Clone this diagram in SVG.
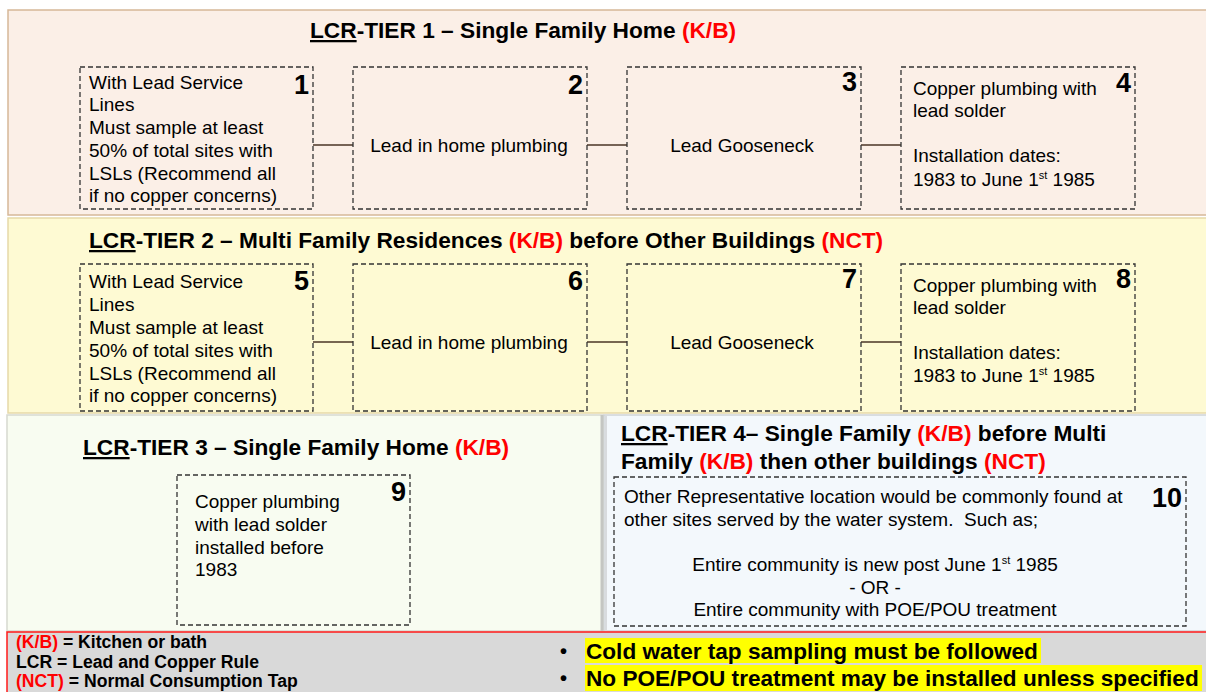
<svg xmlns="http://www.w3.org/2000/svg" width="1206" height="692" viewBox="0 0 1206 692">
<style>
text{font-family:"Liberation Sans",Arial,sans-serif;fill:#000}
.t{font-size:22.7px;font-weight:bold}
.b{font-size:19px}
.n{font-size:27px;font-weight:bold;text-anchor:end}
.c{text-anchor:middle}
.r{fill:#ff0000}
.box{fill:none;stroke:#333;stroke-width:1.3;stroke-dasharray:5,3}
.lg{font-size:17.6px;font-weight:bold}
.bl{font-size:22.6px;font-weight:bold}
.sup{font-size:11px}
</style>
<rect x="0" y="0" width="1206" height="692" fill="#ffffff"/>
<g id="panels">
<rect x="8" y="10" width="1205" height="205" fill="#fbefe7" stroke="#d6b898" stroke-width="1.5"/>
<rect x="8" y="218" width="1205" height="195" fill="#fefad3" stroke="#e6d9a8" stroke-width="1.5"/>
<rect x="7" y="415" width="596" height="216" fill="#f8fcf1" stroke="#d6d9cf" stroke-width="1.5"/>
<rect x="604" y="415" width="605" height="216" fill="#f3f8fc" stroke="#cfd3d6" stroke-width="1.5"/>
<line x1="602" y1="415" x2="602" y2="631" stroke="#c4c6c2" stroke-width="3"/>
<line x1="606" y1="415" x2="606" y2="631" stroke="#d8dbde" stroke-width="2"/>
<rect x="7" y="632" width="1205" height="65" fill="#d9d9d9" stroke="#ff1a1a" stroke-width="1.5"/>
</g>
<g id="titles">
<text class="t" x="310" y="38"><tspan text-decoration="underline">LCR</tspan>-TIER 1 – Single Family Home <tspan class="r">(K/B)</tspan></text>
<text class="t" x="89" y="248"><tspan text-decoration="underline">LCR</tspan>-TIER 2 – Multi Family Residences <tspan class="r">(K/B)</tspan> before Other Buildings <tspan class="r">(NCT)</tspan></text>
<text class="t" x="83" y="455"><tspan text-decoration="underline">LCR</tspan>-TIER 3 – Single Family Home <tspan class="r">(K/B)</tspan></text>
<text class="t" x="621" y="441"><tspan text-decoration="underline">LCR</tspan>-TIER 4– Single Family <tspan class="r">(K/B)</tspan> before Multi</text>
<text class="t" x="621" y="469">Family <tspan class="r">(K/B)</tspan> then other buildings <tspan class="r">(NCT)</tspan></text>
</g>
<g id="connectors" stroke="#4a3526" stroke-width="1.3">
<line x1="313" y1="145" x2="353" y2="145"/>
<line x1="587" y1="145" x2="627" y2="145"/>
<line x1="861" y1="145" x2="901" y2="145"/>
<line x1="313" y1="342" x2="353" y2="342"/>
<line x1="587" y1="342" x2="627" y2="342"/>
<line x1="861" y1="342" x2="901" y2="342"/>
</g>
<g id="node1">
<rect class="box" x="80" y="67" width="233" height="142"/>
<text class="n" x="309" y="94">1</text>
<text class="b" x="89" y="89">With Lead Service</text>
<text class="b" x="89" y="111">Lines</text>
<text class="b" x="89" y="134">Must sample at least</text>
<text class="b" x="89" y="157">50% of total sites with</text>
<text class="b" x="89" y="180">LSLs (Recommend all</text>
<text class="b" x="89" y="202">if no copper concerns)</text>
</g>
<g id="node2">
<rect class="box" x="353" y="67" width="234" height="142"/>
<text class="n" x="583" y="94">2</text>
<text class="b c" x="469" y="152">Lead in home plumbing</text>
</g>
<g id="node3">
<rect class="box" x="627" y="67" width="234" height="142"/>
<text class="n" x="857" y="91">3</text>
<text class="b c" x="742" y="152">Lead Gooseneck</text>
</g>
<g id="node4">
<rect class="box" x="901" y="67" width="234" height="142"/>
<text class="n" x="1131" y="92">4</text>
<text class="b" x="913" y="95">Copper plumbing with</text>
<text class="b" x="913" y="117">lead solder</text>
<text class="b" x="913" y="162">Installation dates:</text>
<text class="b" x="913" y="186">1983 to June 1<tspan class="sup" dy="-7">st</tspan><tspan dy="7"> 1985</tspan></text>
</g>
<g id="node5">
<rect class="box" x="80" y="264" width="233" height="147"/>
<text class="n" x="309" y="290">5</text>
<text class="b" x="89" y="288">With Lead Service</text>
<text class="b" x="89" y="311">Lines</text>
<text class="b" x="89" y="334">Must sample at least</text>
<text class="b" x="89" y="357">50% of total sites with</text>
<text class="b" x="89" y="380">LSLs (Recommend all</text>
<text class="b" x="89" y="402">if no copper concerns)</text>
</g>
<g id="node6">
<rect class="box" x="353" y="264" width="234" height="147"/>
<text class="n" x="583" y="290">6</text>
<text class="b c" x="469" y="349">Lead in home plumbing</text>
</g>
<g id="node7">
<rect class="box" x="627" y="264" width="234" height="147"/>
<text class="n" x="857" y="288">7</text>
<text class="b c" x="742" y="349">Lead Gooseneck</text>
</g>
<g id="node8">
<rect class="box" x="901" y="264" width="234" height="147"/>
<text class="n" x="1131" y="288">8</text>
<text class="b" x="913" y="292">Copper plumbing with</text>
<text class="b" x="913" y="314">lead solder</text>
<text class="b" x="913" y="359">Installation dates:</text>
<text class="b" x="913" y="382">1983 to June 1<tspan class="sup" dy="-7">st</tspan><tspan dy="7"> 1985</tspan></text>
</g>
<g id="node9">
<rect class="box" x="177" y="475" width="233" height="150"/>
<text class="n" x="406" y="501">9</text>
<text class="b" x="195" y="508">Copper plumbing</text>
<text class="b" x="195" y="531">with lead solder</text>
<text class="b" x="195" y="554">installed before</text>
<text class="b" x="195" y="576">1983</text>
</g>
<g id="node10">
<rect class="box" x="614" y="477" width="572" height="149"/>
<text class="n" x="1182" y="507">10</text>
<text class="b" x="624" y="503" font-size="18">Other Representative location would be commonly found at</text>
<text class="b" x="624" y="526" font-size="18">other sites served by the water system.&#160; Such as;</text>
<text class="b c" x="875" y="571" font-size="18">Entire community is new post June 1<tspan class="sup" dy="-7">st</tspan><tspan dy="7"> 1985</tspan></text>
<text class="b c" x="875" y="594" font-size="18">- OR -</text>
<text class="b c" x="875" y="616" font-size="18">Entire community with POE/POU treatment</text>
</g>
<g id="legend">
<text class="lg" x="16" y="648"><tspan class="r">(K/B)</tspan> = Kitchen or bath</text>
<text class="lg" x="16" y="668">LCR = Lead and Copper Rule</text>
<text class="lg" x="16" y="687"><tspan class="r">(NCT)</tspan> = Normal Consumption Tap</text>
<text x="560" y="658" font-size="20" font-weight="bold">•</text>
<text x="560" y="685" font-size="20" font-weight="bold">•</text>
<rect x="585" y="638" width="456" height="25" fill="#ffff00"/>
<rect x="585" y="665" width="617" height="26" fill="#ffff00"/>
<text class="bl" x="586" y="659">Cold water tap sampling must be followed</text>
<text class="bl" x="586" y="686">No POE/POU treatment may be installed unless specified</text>
</g>
</svg>
